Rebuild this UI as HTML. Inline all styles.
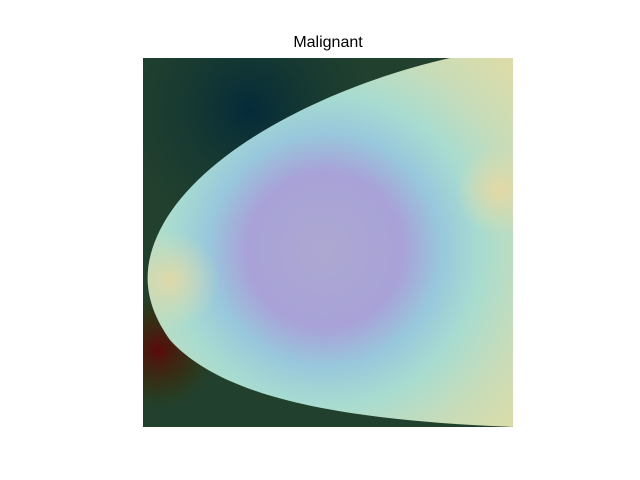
<!DOCTYPE html>
<html>
<head>
<meta charset="utf-8">
<style>
  html, body { margin: 0; padding: 0; background: #ffffff; }
  body { width: 640px; height: 480px; position: relative; overflow: hidden; font-family: "Liberation Sans", "DejaVu Sans", sans-serif; }
  #title { position: absolute; left: 0; width: 656px; top: 34px; text-align: center; font-size: 16px; color: #000; }
  svg { position: absolute; left: 0; top: 0; }
</style>
</head>
<body>
<div id="title">Malignant</div>
<svg width="640" height="480">
  <defs>
    <clipPath id="imgclip"><rect x="143" y="58" width="370" height="369"/></clipPath>
    <radialGradient id="darkblue" cx="250" cy="110" r="130" gradientUnits="userSpaceOnUse">
      <stop offset="0" stop-color="#042a3a"/>
      <stop offset="1" stop-color="#123a30" stop-opacity="0"/>
    </radialGradient>
    <radialGradient id="redspot" cx="158" cy="350" r="60" gradientUnits="userSpaceOnUse">
      <stop offset="0" stop-color="#5a0a08"/>
      <stop offset="0.6" stop-color="#3a2a0a" stop-opacity="0.6"/>
      <stop offset="1" stop-color="#2a3a10" stop-opacity="0"/>
    </radialGradient>
    <radialGradient id="breastfill" cx="325" cy="250" r="260" gradientUnits="userSpaceOnUse">
      <stop offset="0" stop-color="#aca8d0"/>
      <stop offset="0.3" stop-color="#a8a2d8"/>
      <stop offset="0.45" stop-color="#98c8dc"/>
      <stop offset="0.6" stop-color="#a8dcd0"/>
      <stop offset="0.8" stop-color="#c8dcb8"/>
      <stop offset="1" stop-color="#dcdca8"/>
    </radialGradient>
    <radialGradient id="nipple" cx="170" cy="280" r="50" gradientUnits="userSpaceOnUse">
      <stop offset="0" stop-color="#e0d8a8"/>
      <stop offset="1" stop-color="#d8dcb0" stop-opacity="0"/>
    </radialGradient>
    <radialGradient id="rightspot" cx="500" cy="190" r="45" gradientUnits="userSpaceOnUse">
      <stop offset="0" stop-color="#e4d8a4"/>
      <stop offset="1" stop-color="#e0dca8" stop-opacity="0"/>
    </radialGradient>
  </defs>
  <g clip-path="url(#imgclip)">
    <rect x="143" y="58" width="370" height="369" fill="#22402e"/>
    <rect x="143" y="58" width="370" height="369" fill="url(#darkblue)"/>
    <rect x="143" y="58" width="370" height="369" fill="url(#redspot)"/>
    <path
      d="M520,50 L450,58 C330,85 200,150 160,230 C140,270 145,305 170,340 C220,395 330,420 515,427 Z"
      fill="url(#breastfill)"/>
    <path d="M520,50 L450,58 C330,85 200,150 160,230 C140,270 145,305 170,340 C220,395 330,420 515,427 Z" fill="url(#nipple)"/>
    <rect x="440" y="120" width="80" height="150" fill="url(#rightspot)"/>
  </g>
</svg>
</body>
</html>
